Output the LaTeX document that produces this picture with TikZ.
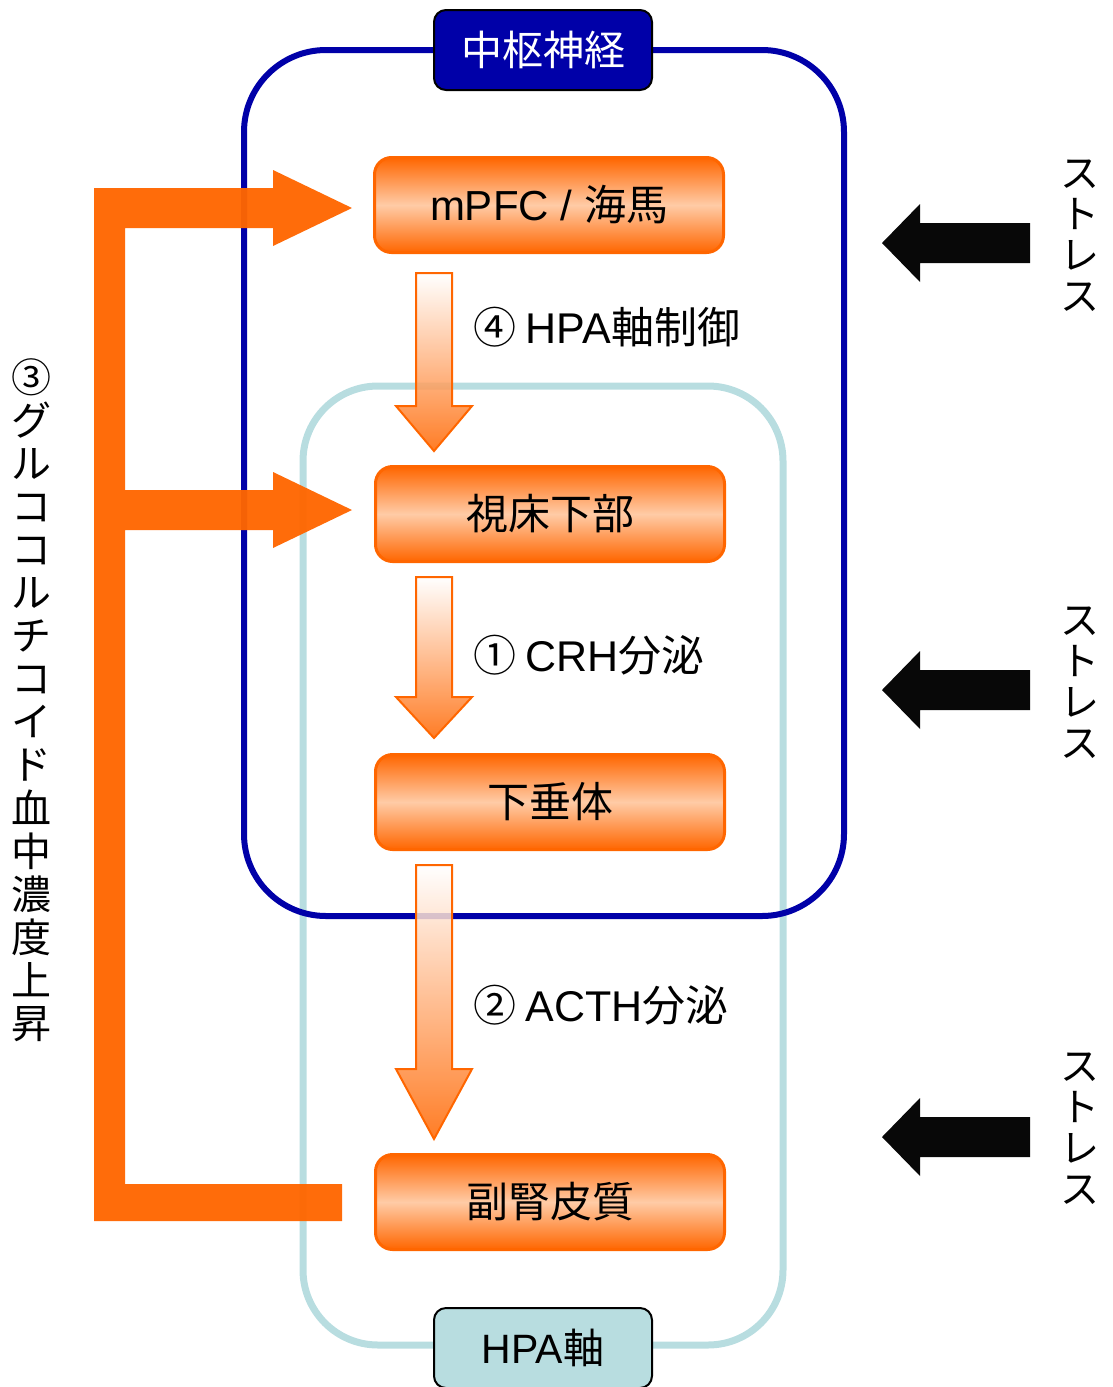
\documentclass[tikz,border=0pt]{standalone}
\usepackage{fontspec}
\setmainfont{Noto Sans CJK JP}
\newfontfamily\latf{Liberation Sans}
\usetikzlibrary{calc}
\definecolor{org}{HTML}{FF6600}
\definecolor{peach}{HTML}{FFCBA6}
\definecolor{navy2}{HTML}{0000A8}
\definecolor{teal2}{HTML}{B8DDE0}
\tikzset{
  stagebox/.style={draw=org, line width=3pt, rounded corners=17pt,
    top color=org, bottom color=org, middle color=peach,
    minimum width=349pt, minimum height=95pt, inner sep=0pt,
    font=\fontsize{42}{48}\selectfont},
  labelbox/.style={draw=black, line width=2pt, rounded corners=12pt,
    minimum width=218pt, minimum height=80pt, inner sep=0pt,
    font=\fontsize{41}{48}\selectfont},
  flowarrow/.style={draw=org, line width=2pt, top color=white, bottom color=org, fill opacity=0.85},
  bracket/.style={fill=org, fill opacity=0.96},
  stressarrow/.style={fill=black!97},
  steplabel/.style={anchor=west, inner sep=0pt, font=\fontsize{43}{48}\selectfont},
  vtext/.style={align=center, inner sep=0pt},
}
\newcommand{\flowdown}[4]{% name, top, head base, tip
  \path[flowarrow] (416,#2) -- (452,#2) -- (452,#3) -- (472,#3) -- (434,#4) coordinate (#1) -- (396,#3) -- (416,#3) -- cycle;}
\newcommand{\stressarr}[2]{% name, center y
  \begin{scope}[shift={(0,#2)}]
    \path[stressarrow] (1030,-20) -- (920,-20) -- (920,-39) -- (882,0) coordinate (#1) -- (920,39) -- (920,20) -- (1030,20) -- cycle;
  \end{scope}}
\begin{document}
\begin{tikzpicture}[x=1pt,y=-1pt]
\useasboundingbox (0,0) rectangle (1113,1387);

% frames
\draw[teal2, line width=7pt, rounded corners=75pt] (303,386) rectangle (783,1345);
\draw[navy2, line width=6pt, rounded corners=82pt] (244,50) rectangle (844,916);

% feedback bracket
\path[bracket] (94,188) -- (273,188) -- (273,170) -- (352,208) coordinate (fbtip1) -- (273,246) -- (273,228)
  -- (125,228) -- (125,490) -- (273,490) -- (273,472) -- (352,510) coordinate (fbtip2) -- (273,548) -- (273,530)
  -- (125,530) -- (125,1184) -- (342,1184) -- (342,1221) -- (94,1221) -- cycle;

% flow arrows
\flowdown{tipA}{273}{406}{451}
\flowdown{tipB}{577}{697}{738}
\flowdown{tipC}{865}{1069}{1139}

% stages
\node[stagebox] (mpfc) at (549,205) {{\latf mPFC / }海馬};
\node[stagebox] (hypo) at (550,514) {視床下部};
\node[stagebox] (pit)  at (550,802) {下垂体};
\node[stagebox] (adr)  at (550,1202) {副腎皮質};

% step labels
\node[steplabel] (l4) at (473,327) {④ {\latf HPA}軸制御};
\node[steplabel] (l1) at (473,655) {① {\latf CRH}分泌};
\node[steplabel] (l2) at (473,1005) {② {\latf ACTH}分泌};

% frame labels
\node[labelbox, fill=navy2, text=white] (cns) at (543,50) {中枢神経};
\node[labelbox, fill=teal2] (hpa) at (543,1348) {{\latf HPA}軸};

% stress
\stressarr{s1}{243}
\stressarr{s2}{690}
\stressarr{s3}{1137}
\node[vtext, font=\fontsize{39}{41}\selectfont] (st1) at (1080,236) {ス\\ト\\レ\\ス};
\node[vtext, font=\fontsize{39}{41}\selectfont] (st2) at (1080,683) {ス\\ト\\レ\\ス};
\node[vtext, font=\fontsize{39}{41}\selectfont] (st3) at (1080,1129) {ス\\ト\\レ\\ス};

% left vertical label
\node[vtext, font=\fontsize{40}{43.1}\selectfont] (gluco) at (32,700)
  {③\\グ\\ル\\コ\\コ\\ル\\チ\\コ\\イ\\ド\\血\\中\\濃\\度\\上\\昇};
\end{tikzpicture}
\end{document}
